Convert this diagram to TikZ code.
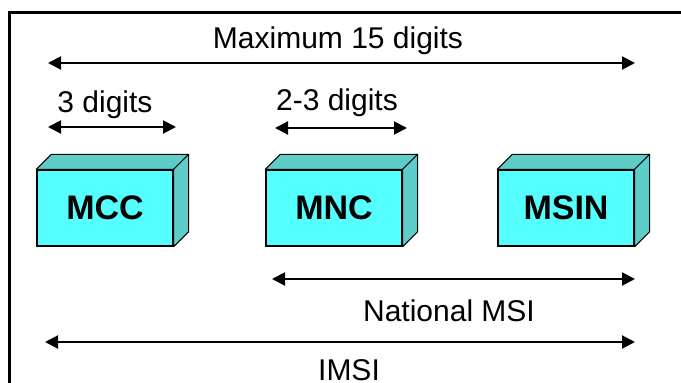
\documentclass[tikz,border=0pt]{standalone}
\usepackage{fontspec}
\setmainfont{Liberation Sans}
\usetikzlibrary{arrows.meta}

\definecolor{faceFront}{HTML}{55FFFF}
\definecolor{faceSide}{HTML}{5ECCC8}

\tikzset{
  lbl/.style={font=\fontsize{30}{30}\selectfont, inner sep=0pt, anchor=base},
  field/.style={draw=black, line width=1.3pt, fill=faceFront,
    minimum width=136pt, minimum height=76pt, inner sep=0pt,
    font=\fontsize{34}{34}\selectfont\bfseries},
  depth/.style={draw=black, line width=1pt, fill=faceSide, line join=round},
  span/.style={line width=2pt, {Triangle[length=13pt,width=13pt]}-{Triangle[length=13pt,width=13pt]}},
  frameline/.style={line width=3pt}
}

\newcommand{\boxdepth}[1]{%
  \path[depth] (#1.north west) -- ++(15,-15) -- ([shift={(15,-15)}]#1.north east) -- (#1.north east) -- cycle;
  \path[depth] (#1.north east) -- ++(15,-15) -- ([shift={(15,-15)}]#1.south east) -- (#1.south east) -- cycle;
}

\begin{document}
\begin{tikzpicture}[x=1pt, y=-1pt]
\useasboundingbox (0,0) rectangle (681,383);

% outer frame (left and top edges)
\draw[frameline] (9.5,420) -- (9.5,12) -- (720,12);

% field boxes
\node[field] (mcc)  at (105,208) {MCC};
\node[field] (mnc)  at (334,208) {MNC};
\node[field] (msin) at (566,208) {MSIN};
\boxdepth{mcc}
\boxdepth{mnc}
\boxdepth{msin}

% span end points
\coordinate (maxL) at (48,63);   \coordinate (maxR) at (635,63);
\coordinate (mccL) at (48,127);  \coordinate (mccR) at (176,127);
\coordinate (mncL) at (275,128); \coordinate (mncR) at (407,128);
\coordinate (nmsiL) at (272,279); \coordinate (nmsiR) at (635,279);
\coordinate (imsiL) at (45,342); \coordinate (imsiR) at (635,342);

\draw[span] (maxL) -- (maxR);
\draw[span] (mccL) -- (mccR);
\draw[span] (mncL) -- (mncR);
\draw[span] (nmsiL) -- (nmsiR);
\draw[span] (imsiL) -- (imsiR);

% labels
\node[lbl] (tmax)  at (338,48)  {Maximum 15 digits};
\node[lbl] (tmcc)  at (105,112) {3 digits};
\node[lbl] (tmnc)  at (337,110) {2-3 digits};
\node[lbl] (tnmsi) at (449,321) {National MSI};
\node[lbl] (timsi) at (349,380) {IMSI};
\end{tikzpicture}
\end{document}
